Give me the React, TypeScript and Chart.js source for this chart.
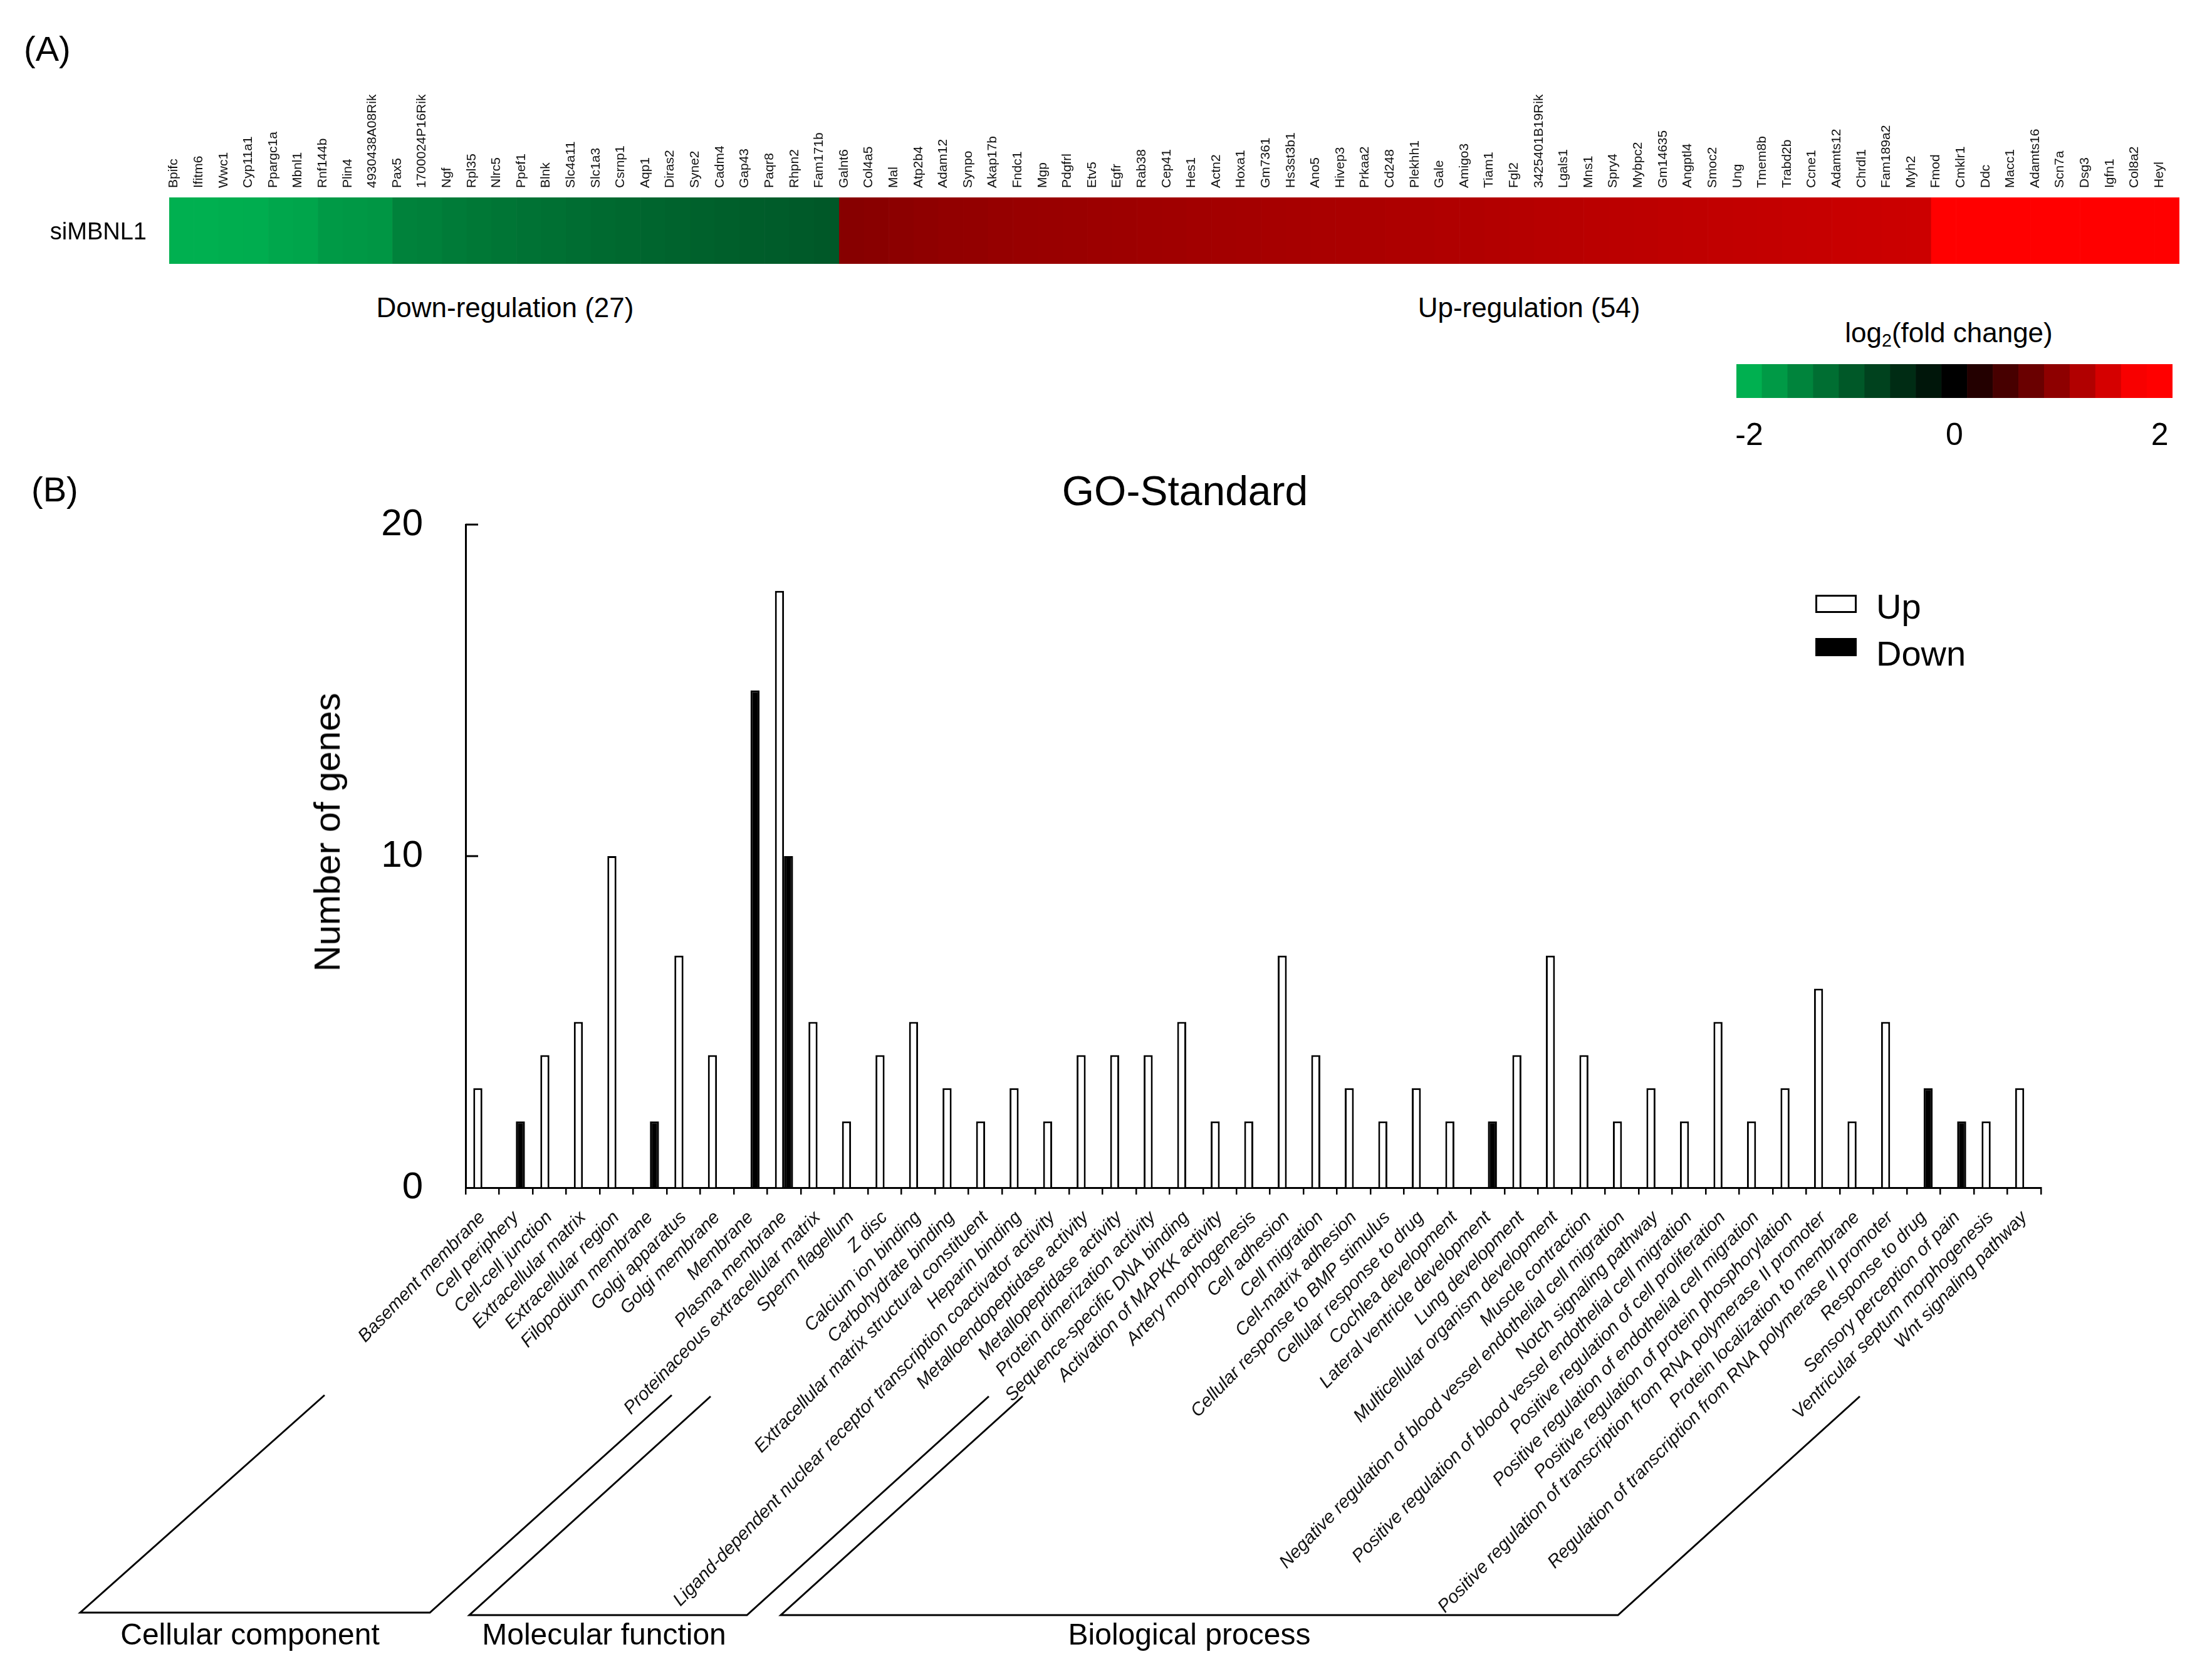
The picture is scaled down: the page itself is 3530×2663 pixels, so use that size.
import React, { useEffect, useRef } from 'react';
import { Chart, registerables } from 'chart.js';

Chart.register(...registerables);

const FONT = '"Liberation Sans", Arial, Helvetica, sans-serif';

// ---------- Panel A: heatmap data ----------
const GENES_DOWN = [
  'Bpifc', 'Ifitm6', 'Wwc1', 'Cyp11a1', 'Ppargc1a', 'Mbnl1', 'Rnf144b', 'Plin4', '4930438A08Rik',
  'Pax5', '1700024P16Rik', 'Ngf', 'Rpl35', 'Nlrc5', 'Ppef1', 'Blnk', 'Slc4a11', 'Slc1a3', 'Csrnp1',
  'Aqp1', 'Diras2', 'Syne2', 'Cadm4', 'Gap43', 'Paqr8', 'Rhpn2', 'Fam171b',
];
const LOG2FC_DOWN = [
  -2.0, -2.0, -1.98, -1.97, -1.9, -1.88, -1.75, -1.73, -1.7,
  -1.48, -1.45, -1.4, -1.36, -1.33, -1.3, -1.27, -1.24, -1.21, -1.18,
  -1.15, -1.12, -1.1, -1.08, -1.06, -1.04, -1.02, -1.0,
];
const GENES_UP = [
  'Galnt6', 'Col4a5', 'Mal', 'Atp2b4', 'Adam12', 'Synpo', 'Akap17b', 'Fndc1', 'Mgp', 'Pdgfrl',
  'Etv5', 'Egfr', 'Rab38', 'Cep41', 'Hes1', 'Actn2', 'Hoxa1', 'Gm7361', 'Hs3st3b1', 'Ano5',
  'Hivep3', 'Prkaa2', 'Cd248', 'Plekhh1', 'Gale', 'Amigo3', 'Tiam1', 'Fgl2', '3425401B19Rik',
  'Lgals1', 'Mns1', 'Spry4', 'Mybpc2', 'Gm14635', 'Angptl4', 'Smoc2', 'Ung', 'Tmem8b', 'Trabd2b',
  'Ccne1', 'Adamts12', 'Chrdl1', 'Fam189a2', 'Myh2', 'Fmod', 'Cmklr1', 'Ddc', 'Macc1', 'Adamts16',
  'Scn7a', 'Dsg3', 'Igfn1', 'Col8a2', 'Heyl',
];
const LOG2FC_UP = [
  0.95, 0.97, 0.99, 1.01, 1.03, 1.04, 1.06, 1.07, 1.08, 1.09,
  1.1, 1.11, 1.12, 1.13, 1.14, 1.15, 1.16, 1.17, 1.18, 1.19,
  1.2, 1.21, 1.22, 1.23, 1.24, 1.25, 1.26, 1.28, 1.29,
  1.3, 1.31, 1.32, 1.33, 1.34, 1.35, 1.36, 1.37, 1.38, 1.39,
  1.4, 1.41, 1.42, 1.43, 1.44, 2.0, 2.05, 2.1, 2.1, 2.15,
  2.2, 2.3, 2.35, 2.4, 2.5,
];
const COLORBAR_VALUES = [-2, -1.75, -1.5, -1.25, -1, -0.75, -0.5, -0.25, 0, 0.25, 0.5, 0.75, 1, 1.25, 1.5, 1.75, 2];
const COLORBAR_LABELED = [-2, 0, 2];

// ---------- Panel B: GO data ----------
const GO_TERMS = [
  'Basement membrane', 'Cell periphery', 'Cell-cell junction', 'Extracellular matrix', 'Extracellular region',
  'Filopodium membrane', 'Golgi apparatus', 'Golgi membrane', 'Membrane', 'Plasma membrane',
  'Proteinaceous extracellular matrix', 'Sperm flagellum', 'Z disc',
  'Calcium ion binding', 'Carbohydrate binding', 'Extracellular matrix structural constituent', 'Heparin binding',
  'Ligand-dependent nuclear receptor transcription coactivator activity', 'Metalloendopeptidase activity',
  'Metallopeptidase activity', 'Protein dimerization activity', 'Sequence-specific DNA binding',
  'Activation of MAPKK activity', 'Artery morphogenesis', 'Cell adhesion', 'Cell migration', 'Cell-matrix adhesion',
  'Cellular response to BMP stimulus', 'Cellular response to drug', 'Cochlea development',
  'Lateral ventricle development', 'Lung development', 'Multicellular organism development', 'Muscle contraction',
  'Negative regulation of blood vessel endothelial cell migration', 'Notch signaling pathway',
  'Positive regulation of blood vessel endothelial cell migration', 'Positive regulation of cell proliferation',
  'Positive regulation of endothelial cell migration', 'Positive regulation of protein phosphorylation',
  'Positive regulation of transcription from RNA polymerase II promoter', 'Protein localization to membrane',
  'Regulation of transcription from RNA polymerase II promoter', 'Response to drug', 'Sensory perception of pain',
  'Ventricular septum morphogenesis', 'Wnt signaling pathway',
];
const GO_UP = [
  3, 0, 4, 5, 10, 0, 7, 4, 0, 18,
  5, 2, 4, 5, 3, 2, 3, 2, 4, 4,
  4, 5, 2, 2, 7, 4, 3, 2, 3, 2,
  0, 4, 7, 4, 2, 3, 2, 5, 2, 3,
  6, 2, 5, 0, 0, 2, 3,
];
const GO_DOWN = [
  0, 2, 0, 0, 0, 2, 0, 0, 15, 10,
  0, 0, 0, 0, 0, 0, 0, 0, 0, 0,
  0, 0, 0, 0, 0, 0, 0, 0, 0, 0,
  2, 0, 0, 0, 0, 0, 0, 0, 0, 0,
  0, 0, 0, 3, 2, 0, 0,
];
const GO_Y_TICKS = [0, 10, 20];
const GO_SERIES = ['Up', 'Down'];
const GO_GROUPS = ['Cellular component', 'Molecular function', 'Biological process'];

// ---------- layout (pixels, not data) ----------
const GO_TOP = 700;
const BRACKETS = [
  { x0b: 128, x1b: 686, yb: 1873, x0t: 518, x1t: 1072, yt: 1526, lx: 399 },
  { x0b: 749, x1b: 1192, yb: 1877, x0t: 1134, x1t: 1578, yt: 1528, lx: 964 },
  { x0b: 1246, x1b: 2582, yb: 1877, x0t: 1632, x1t: 2968, yt: 1528, lx: 1898 },
];

function fcColor(v: number): string {
  const t = Math.max(-2, Math.min(2, v));
  if (t < 0) {
    const a = -t / 2;
    return `rgb(0,${Math.round(176 * a)},${Math.round(80 * a)})`;
  }
  const r = Math.min(255, Math.round((255 * t) / 1.8));
  return `rgb(${r},0,0)`;
}

const goDecor = {
  id: 'goDecor',
  afterDraw(chart: any) {
    const ctx = chart.ctx as CanvasRenderingContext2D;
    const { left } = chart.chartArea;
    const ys = chart.scales.y;
    ctx.save();
    ctx.strokeStyle = '#000';
    ctx.lineWidth = 3;
    // inward y ticks
    GO_Y_TICKS.forEach((v) => {
      if (v === 0) return;
      const py = Math.round(ys.getPixelForValue(v));
      ctx.beginPath();
      ctx.moveTo(left, py);
      ctx.lineTo(left + 20, py);
      ctx.stroke();
    });
    // legend
    const lx = 2897;
    const boxW = 66;
    const boxH = 29;
    const rows = [249, 318];
    chart.data.datasets.forEach((ds: any, i: number) => {
      const y0 = rows[i];
      ctx.fillStyle = ds.backgroundColor;
      ctx.fillRect(lx, y0, boxW, boxH);
      ctx.lineWidth = 3;
      ctx.strokeStyle = ds.borderColor;
      ctx.strokeRect(lx + 1.5, y0 + 1.5, boxW - 3, boxH - 3);
      ctx.fillStyle = '#000';
      ctx.font = `56px ${FONT}`;
      ctx.textAlign = 'left';
      ctx.textBaseline = 'middle';
      ctx.fillText(ds.label, 2994, y0 + boxH / 2 + 8 + i * 6);
    });
    // group brackets
    ctx.lineWidth = 3;
    ctx.strokeStyle = '#000';
    ctx.lineJoin = 'miter';
    BRACKETS.forEach((b, i) => {
      ctx.beginPath();
      ctx.moveTo(b.x0t, b.yt);
      ctx.lineTo(b.x0b, b.yb);
      ctx.lineTo(b.x1b, b.yb);
      ctx.lineTo(b.x1t, b.yt);
      ctx.stroke();
      ctx.fillStyle = '#000';
      ctx.font = `48px ${FONT}`;
      ctx.textAlign = 'center';
      ctx.textBaseline = 'middle';
      ctx.fillText(GO_GROUPS[i], b.lx, 1911);
    });
    ctx.restore();
  },
};

function Txt(props: {
  x: number; y: number; size: number; anchor?: 'left' | 'center' | 'right'; rotate?: number; children: any;
}) {
  const { x, y, size, anchor = 'center', rotate = 0, children } = props;
  const tx = anchor === 'left' ? '0' : anchor === 'right' ? '-100%' : '-50%';
  return (
    <div
      style={{
        position: 'absolute',
        left: x,
        top: y,
        fontSize: size,
        lineHeight: 1,
        whiteSpace: 'nowrap',
        color: '#000',
        fontFamily: FONT,
        transform: `translate(${tx}, -50%)${rotate ? ` rotate(${rotate}deg)` : ''}`,
        transformOrigin: rotate ? '50% 50%' : undefined,
      }}
    >
      {children}
    </div>
  );
}

export default function App() {
  const heatRef = useRef<HTMLCanvasElement>(null);
  const cbRef = useRef<HTMLCanvasElement>(null);
  const goRef = useRef<HTMLCanvasElement>(null);

  useEffect(() => {
    Chart.defaults.font.family = FONT;
    const genes = [...GENES_DOWN, ...GENES_UP];
    const fc = [...LOG2FC_DOWN, ...LOG2FC_UP];

    const heat = new Chart(heatRef.current as HTMLCanvasElement, {
      type: 'bar',
      data: {
        labels: genes,
        datasets: [
          {
            label: 'siMBNL1',
            data: fc.map(() => 1),
            backgroundColor: fc.map(fcColor),
            borderWidth: 0,
            categoryPercentage: 1,
            barPercentage: 1,
          },
        ],
      },
      options: {
        animation: false,
        responsive: false,
        devicePixelRatio: 1,
        layout: { padding: { left: 270, right: 52, top: 0, bottom: 39 } },
        plugins: { legend: { display: false }, tooltip: { enabled: false } },
        scales: {
          x: {
            position: 'top',
            grid: { display: false },
            border: { display: false },
            ticks: {
              autoSkip: false,
              minRotation: 90,
              maxRotation: 90,
              padding: 7,
              labelOffset: 13,
              color: '#111',
              font: { family: FONT, size: 21 },
            },
            afterFit: (s: any) => {
              s.height = 315;
            },
          },
          y: { display: false, min: 0, max: 1 },
        },
      },
    } as any);

    const cb = new Chart(cbRef.current as HTMLCanvasElement, {
      type: 'bar',
      data: {
        labels: COLORBAR_VALUES.map(String),
        datasets: [
          {
            data: COLORBAR_VALUES.map(() => 1),
            backgroundColor: COLORBAR_VALUES.map(fcColor),
            borderWidth: 0,
            categoryPercentage: 1,
            barPercentage: 1,
          },
        ],
      },
      options: {
        animation: false,
        responsive: false,
        devicePixelRatio: 1,
        layout: { padding: { left: 71, right: 63, top: 21, bottom: 0 } },
        plugins: { legend: { display: false }, tooltip: { enabled: false } },
        scales: {
          x: {
            grid: { display: false },
            border: { display: false },
            ticks: {
              autoSkip: false,
              minRotation: 0,
              maxRotation: 0,
              padding: 23,
              color: '#000',
              font: { family: FONT, size: 50 },
              callback: (_v: any, i: number) =>
                COLORBAR_LABELED.includes(COLORBAR_VALUES[i]) ? String(COLORBAR_VALUES[i]) : '',
            },
            afterFit: (s: any) => {
              s.height = 105;
            },
          },
          y: { display: false, min: 0, max: 1 },
        },
      },
    } as any);

    const go = new Chart(goRef.current as HTMLCanvasElement, {
      type: 'bar',
      data: {
        labels: GO_TERMS,
        datasets: [
          {
            label: GO_SERIES[0],
            data: GO_UP.map((v) => (v ? v : null)),
            backgroundColor: '#ffffff',
            borderColor: '#000000',
            borderWidth: 3,
          },
          {
            label: GO_SERIES[1],
            data: GO_DOWN.map((v) => (v ? v : null)),
            backgroundColor: '#000000',
            borderColor: '#000000',
            borderWidth: 3,
          },
        ],
      },
      options: {
        animation: false,
        responsive: false,
        devicePixelRatio: 1,
        datasets: { bar: { categoryPercentage: 0.54, barPercentage: 1 } },
        layout: { padding: { left: 0, right: 273, top: 137, bottom: 0 } },
        plugins: { legend: { display: false }, tooltip: { enabled: false } },
        scales: {
          x: {
            grid: { drawOnChartArea: false, tickLength: 11, color: '#000', lineWidth: 2.5 },
            border: { color: '#000', width: 3 },
            ticks: {
              autoSkip: false,
              minRotation: 46,
              maxRotation: 46,
              padding: 20,
              color: '#111',
              font: { family: FONT, size: 29, style: 'italic' },
            },
            afterFit: (s: any) => {
              s.height = 768;
            },
          },
          y: {
            min: 0,
            max: 20,
            afterBuildTicks: (s: any) => {
              s.ticks = GO_Y_TICKS.map((v) => ({ value: v }));
            },
            ticks: { padding: 68, color: '#000', font: { family: FONT, size: 60 } },
            grid: { drawOnChartArea: false, drawTicks: false },
            border: { color: '#000', width: 3 },
            afterFit: (s: any) => {
              s.width = 743;
            },
          },
        },
      },
      plugins: [goDecor],
    } as any);

    return () => {
      heat.destroy();
      cb.destroy();
      go.destroy();
    };
  }, []);

  return (
    <div
      style={{
        position: 'absolute',
        left: 0,
        top: 0,
        width: 3530,
        height: 2663,
        overflow: 'hidden',
        background: '#fff',
        fontFamily: FONT,
      }}
    >
      <canvas
        ref={heatRef}
        width={3530}
        height={460}
        style={{ position: 'absolute', left: 0, top: 0, width: 3530, height: 460 }}
      />
      <canvas
        ref={cbRef}
        width={830}
        height={180}
        style={{ position: 'absolute', left: 2700, top: 560, width: 830, height: 180 }}
      />
      <canvas
        ref={goRef}
        width={3530}
        height={1963}
        style={{ position: 'absolute', left: 0, top: GO_TOP, width: 3530, height: 1963 }}
      />
      <Txt x={38} y={78} size={56} anchor="left">(A)</Txt>
      <Txt x={234} y={369} size={38} anchor="right">siMBNL1</Txt>
      <Txt x={806} y={491} size={44}>Down-regulation (27)</Txt>
      <Txt x={2440} y={491} size={44}>Up-regulation (54)</Txt>
      <Txt x={3110} y={531} size={44}>
        log<sub style={{ fontSize: '0.65em', verticalAlign: '-0.25em', lineHeight: 0 }}>2</sub>(fold change)
      </Txt>
      <Txt x={50} y={781} size={56} anchor="left">(B)</Txt>
      <Txt x={1891} y={783} size={66}>GO-Standard</Txt>
      <Txt x={522} y={1328} size={58} rotate={-90}>Number of genes</Txt>
    </div>
  );
}
